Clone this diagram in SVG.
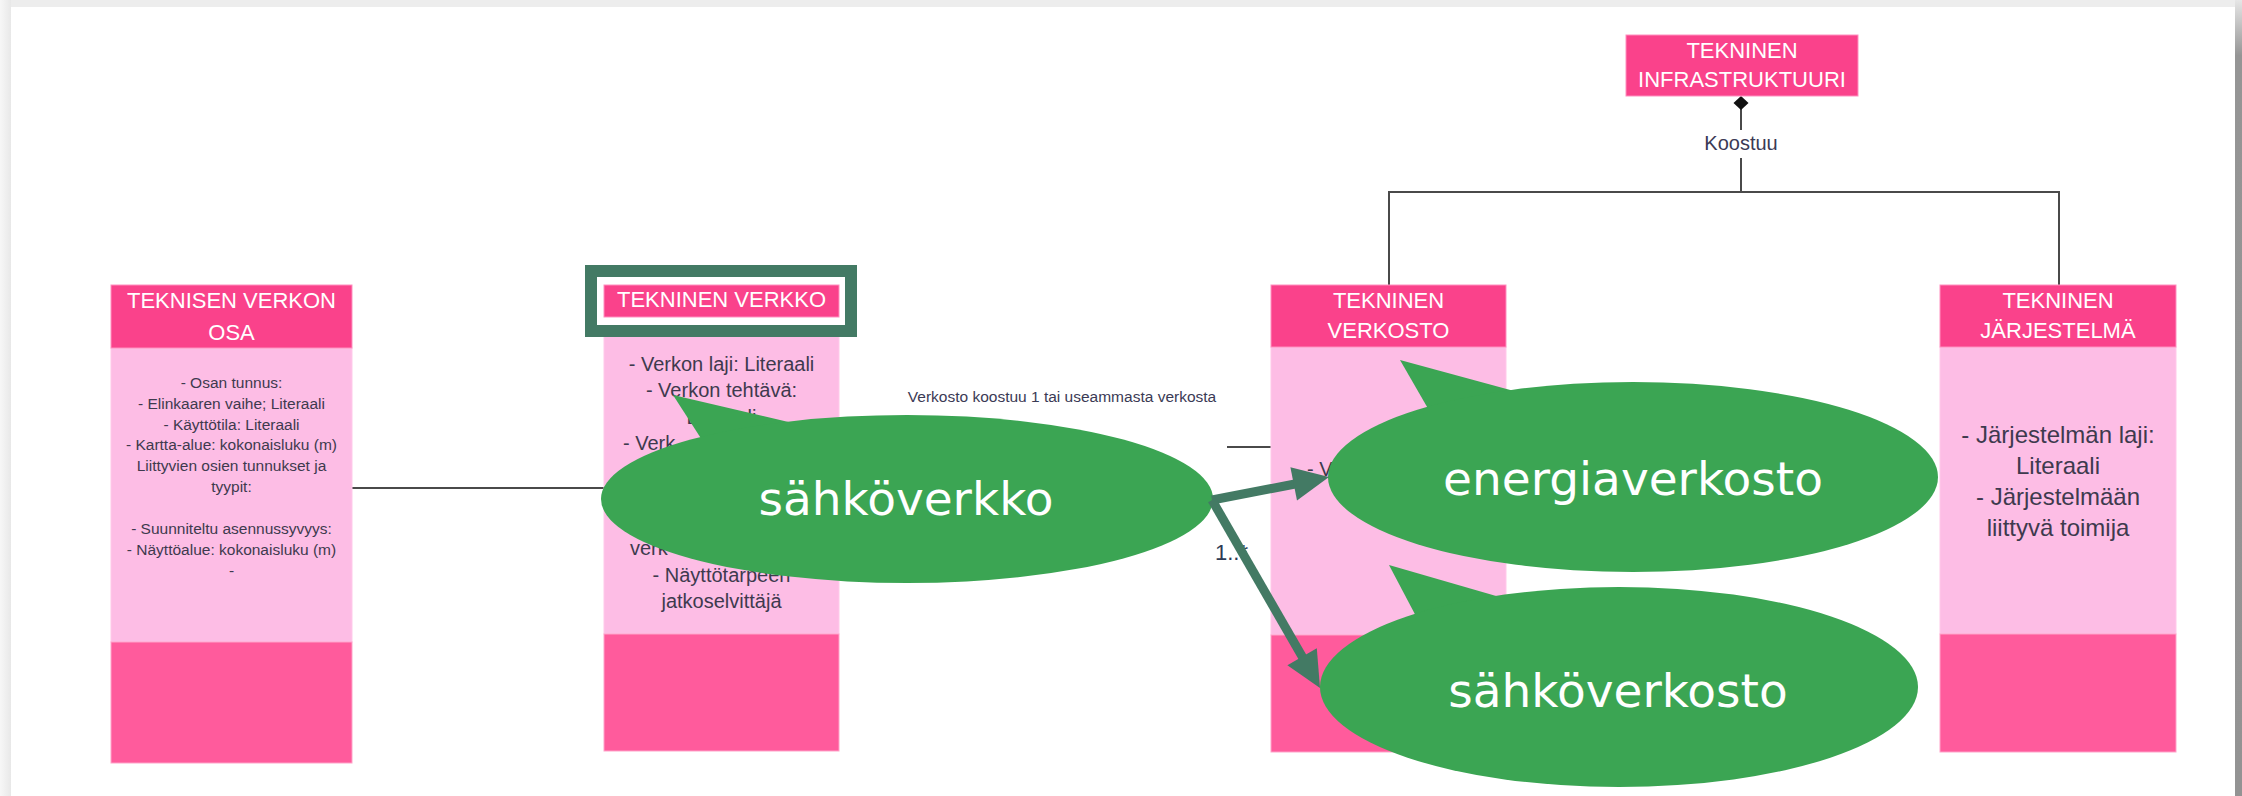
<svg xmlns="http://www.w3.org/2000/svg" width="2242" height="796" viewBox="0 0 2242 796">
  <style>
    .hdr{fill:#fa428b;stroke:#ff8fbf;stroke-width:1}
    .bdy{fill:#fdbde5;stroke:#ffc9ea;stroke-width:1}
    .ftr{fill:#ff5b9c;stroke:#ffa3c9;stroke-width:1}
    .ht{font-family:"Liberation Sans",Arial,sans-serif;font-size:22px;fill:#ffffff;text-anchor:middle}
    .bt{font-family:"Liberation Sans",Arial,sans-serif;fill:#3e3a4e;text-anchor:middle}
    .bs{font-family:"Liberation Sans",Arial,sans-serif;fill:#3e3a4e}
    .conn{stroke:#4a4a4a;stroke-width:2;fill:none}
    .lbl{font-family:"Liberation Sans",Arial,sans-serif;fill:#3b3a55;text-anchor:middle}
    .bubble{fill:#3ba553}
    .bubt{font-family:"DejaVu Sans",Verdana,sans-serif;font-size:47px;fill:#ffffff;text-anchor:middle}
    .arr{stroke:#437a64;stroke-width:9;fill:none;stroke-linejoin:round}
    .head{fill:#437a64}
  </style>
  <defs>
    <linearGradient id="edgeR" x1="0" y1="0" x2="0" y2="1">
      <stop offset="0" stop-color="#e6e6e6"/>
      <stop offset="0.07" stop-color="#959595"/>
      <stop offset="1" stop-color="#939393"/>
    </linearGradient>
    <linearGradient id="edgeL" x1="0" y1="0" x2="1" y2="0">
      <stop offset="0" stop-color="#f7f7f7"/>
      <stop offset="1" stop-color="#e8e8e8"/>
    </linearGradient>
  </defs>

  <!-- page frame -->
  <rect x="0" y="0" width="2242" height="796" fill="#ededed"/>
  <rect x="0" y="0" width="11" height="796" fill="url(#edgeL)"/>
  <rect x="2235" y="0" width="7" height="796" fill="url(#edgeR)"/>
  <rect x="11" y="7" width="2224" height="789" fill="#ffffff"/>

  <!-- connectors -->
  <g id="connectors">
    <line class="conn" x1="352" y1="488" x2="604" y2="488"/>
    <line class="conn" x1="1227" y1="447" x2="1271" y2="447"/>
    <line class="conn" x1="1741" y1="108" x2="1741" y2="130" stroke-width="3"/>
    <line class="conn" x1="1741" y1="158" x2="1741" y2="192" stroke-width="3"/>
    <polyline class="conn" points="1389,285 1389,192 2059,192 2059,285"/>
    <polygon points="1741,96 1748.5,103 1741,110 1733.5,103" fill="#111"/>
    <text class="lbl" x="1741" y="150" font-size="20">Koostuu</text>
    <text class="lbl" x="1062" y="402" font-size="15.5">Verkosto koostuu 1 tai useammasta verkosta</text>
    <text x="1215" y="560" font-family="Liberation Sans, Arial, sans-serif" font-size="22" fill="#2d3a55">1..*</text>
  </g>

  <!-- TEKNINEN INFRASTRUKTUURI -->
  <g id="node-infra">
    <rect class="hdr" x="1626" y="35" width="232" height="61"/>
    <text class="ht" x="1742" y="58">TEKNINEN</text>
    <text class="ht" x="1742" y="87">INFRASTRUKTUURI</text>
  </g>

  <!-- TEKNISEN VERKON OSA -->
  <g id="node-osa">
    <rect class="bdy" x="111" y="348" width="241" height="294"/>
    <rect class="ftr" x="111" y="642" width="241" height="121"/>
    <rect class="hdr" x="111" y="285" width="241" height="63"/>
    <text class="ht" x="231.5" y="308" font-size="22.5">TEKNISEN VERKON</text>
    <text class="ht" x="231.5" y="340" font-size="22.5">OSA</text>
    <g class="bt" font-size="15.5">
      <text x="231.5" y="388">- Osan tunnus:</text>
      <text x="231.5" y="409">- Elinkaaren vaihe; Literaali</text>
      <text x="231.5" y="430">- Käyttötila: Literaali</text>
      <text x="231.5" y="450">- Kartta-alue: kokonaisluku (m)</text>
      <text x="231.5" y="471">Liittyvien osien tunnukset ja</text>
      <text x="231.5" y="492">tyypit:</text>
      <text x="231.5" y="534">- Suunniteltu asennussyvyys:</text>
      <text x="231.5" y="555">- Näyttöalue: kokonaisluku (m)</text>
      <text x="231.5" y="576">-</text>
    </g>
  </g>

  <!-- TEKNINEN VERKKO -->
  <g id="node-verkko">
    <rect class="bdy" x="604" y="317" width="235" height="317"/>
    <rect class="ftr" x="604" y="634" width="235" height="117"/>
    <rect x="591" y="271" width="260" height="60" fill="#ffffff" stroke="#437a64" stroke-width="12"/>
    <rect class="hdr" x="604" y="285" width="235" height="32"/>
    <text class="ht" x="721.5" y="307" font-size="22.5">TEKNINEN VERKKO</text>
    <g class="bt" font-size="20">
      <text x="721.5" y="371">- Verkon laji: Literaali</text>
      <text x="721.5" y="397">- Verkon tehtävä:</text>
      <text x="721.5" y="424">Literaali</text>
      <text class="bs" x="623" y="450" text-anchor="start">- Verk</text>
      <text class="bs" x="630" y="555" text-anchor="start">verk</text>
      <text x="721.5" y="582">- Näyttötarpeen</text>
      <text x="721.5" y="608">jatkoselvittäjä</text>
    </g>
  </g>

  <!-- TEKNINEN VERKOSTO -->
  <g id="node-verkosto">
    <rect class="bdy" x="1271" y="347" width="235" height="288"/>
    <rect class="ftr" x="1271" y="635" width="235" height="117"/>
    <rect class="hdr" x="1271" y="285" width="235" height="62"/>
    <text class="ht" x="1388.5" y="308">TEKNINEN</text>
    <text class="ht" x="1388.5" y="338">VERKOSTO</text>
    <text class="bs" x="1307" y="476" font-size="20">- V</text>
  </g>

  <!-- TEKNINEN JÄRJESTELMÄ -->
  <g id="node-jarjestelma">
    <rect class="bdy" x="1940" y="347" width="236" height="287"/>
    <rect class="ftr" x="1940" y="634" width="236" height="118"/>
    <rect class="hdr" x="1940" y="285" width="236" height="62"/>
    <text class="ht" x="2058" y="308">TEKNINEN</text>
    <text class="ht" x="2058" y="338">JÄRJESTELMÄ</text>
    <g class="bt" font-size="24">
      <text x="2058" y="443">- Järjestelmän laji:</text>
      <text x="2058" y="474">Literaali</text>
      <text x="2058" y="505">- Järjestelmään</text>
      <text x="2058" y="536">liittyvä toimija</text>
    </g>
  </g>

  <!-- callouts -->
  <g id="callout-sahkoverkko">
    <polygon class="bubble" points="673,395 702,440 797,424"/>
    <ellipse class="bubble" cx="907" cy="499" rx="306" ry="84"/>
    <text class="bubt" x="906" y="515">sähköverkko</text>
  </g>
  <g id="callout-energiaverkosto">
    <polygon class="bubble" points="1400,360 1430,412 1525,394"/>
    <ellipse class="bubble" cx="1633" cy="477" rx="305" ry="95"/>
    <text class="bubt" x="1633" y="495">energiaverkosto</text>
  </g>
  <g id="callout-sahkoverkosto">
    <polygon class="bubble" points="1389,565 1418,620 1510,600"/>
    <ellipse class="bubble" cx="1619" cy="687" rx="299" ry="100"/>
    <text class="bubt" x="1618" y="707">sähköverkosto</text>
  </g>

  <!-- arrows between callouts -->
  <g id="arrows">
    <line class="arr" x1="1212" y1="500" x2="1295" y2="484"/>
    <polygon class="head" points="1329,477 1297,500.6 1290.4,467.2"/>
    <line class="arr" x1="1212" y1="500" x2="1303" y2="658"/>
    <polygon class="head" points="1320,688 1287.4,665.3 1316.8,648.3"/>
  </g>
</svg>
